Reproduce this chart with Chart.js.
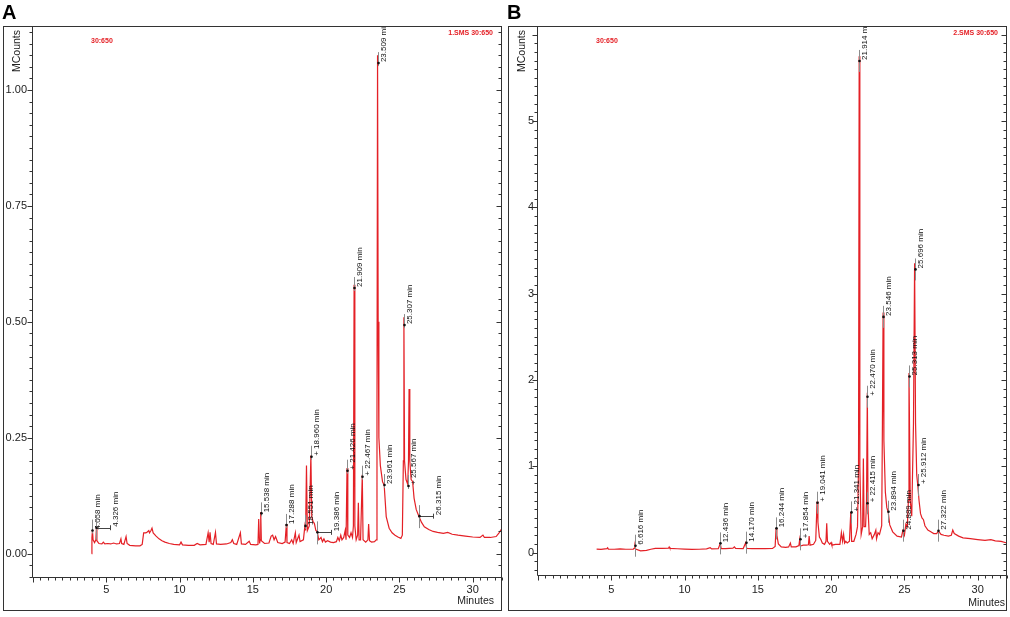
<!DOCTYPE html>
<html lang="en">
<head>
<meta charset="UTF-8">
<title>GC-MS chromatograms A / B</title>
<script src="https://cdn.jsdelivr.net/npm/chart.js"></script>
<style>
  html, body { margin: 0; padding: 0; background: #fff; }
  #wrap { position: relative; width: 1010px; height: 617px; }
  .panel { position: absolute; top: 0; width: 505px; height: 617px; }
  #panelA { left: 0; }
  #panelB { left: 505px; }
</style>
</head>
<body>
<div id="wrap">
  <div class="panel" id="panelA"><canvas id="chartA"></canvas></div>
  <div class="panel" id="panelB"><canvas id="chartB"></canvas></div>
</div>
<script>
// tick labels
var xTicks = [5, 10, 15, 20, 25, 30];
var yTicksA = [0, 0.25, 0.5, 0.75, 1.0];
var yTicksB = [0, 1, 2, 3, 4, 5];

// panel A trace, [minutes, MCounts]
var traceA = [
  [4.00,0.000],[4.02,0.035],[4.058,0.050],[4.10,0.030],[4.20,0.024],[4.29,0.030],[4.326,0.056],[4.36,0.028],
  [4.50,0.022],[4.70,0.021],[4.80,0.025],[4.90,0.021],[5.10,0.022],[5.30,0.021],[5.50,0.023],[5.70,0.021],
  [5.90,0.022],[6.00,0.032],[6.05,0.022],[6.20,0.020],[6.35,0.037],[6.42,0.022],[6.60,0.018],[7.00,0.017],
  [7.30,0.017],[7.45,0.020],[7.55,0.045],[7.70,0.045],[7.80,0.047],[7.90,0.050],[7.95,0.045],[8.05,0.050],
  [8.12,0.055],[8.20,0.045],[8.40,0.038],[8.60,0.032],[8.80,0.028],[9.00,0.025],[9.30,0.022],[9.60,0.020],
  [10.00,0.019],[10.10,0.025],[10.20,0.019],[10.60,0.018],[11.00,0.018],[11.20,0.022],[11.40,0.019],[11.80,0.020],
  [11.95,0.045],[12.02,0.025],[12.08,0.046],[12.15,0.022],[12.30,0.020],[12.45,0.046],[12.52,0.021],[12.80,0.020],
  [13.20,0.021],[13.50,0.024],[13.60,0.030],[13.70,0.022],[13.90,0.020],[14.15,0.045],[14.22,0.021],[14.50,0.020],
  [14.75,0.027],[14.85,0.020],[15.20,0.019],[15.35,0.020],[15.40,0.075],[15.46,0.022],[15.50,0.030],[15.538,0.090],
  [15.58,0.028],[15.80,0.022],[16.10,0.023],[16.25,0.038],[16.35,0.040],[16.45,0.030],[16.55,0.037],[16.70,0.024],
  [17.00,0.022],[17.20,0.025],[17.288,0.064],[17.33,0.024],[17.50,0.022],[17.65,0.030],[17.75,0.022],[17.90,0.045],
  [17.96,0.024],[18.15,0.040],[18.22,0.026],[18.45,0.030],[18.551,0.060],[18.60,0.050],[18.66,0.190],[18.72,0.050],
  [18.85,0.060],[18.96,0.212],[19.02,0.080],[19.10,0.070],[19.20,0.065],[19.30,0.050],[19.386,0.048],[19.50,0.030],
  [19.65,0.035],[19.75,0.026],[19.85,0.032],[19.95,0.025],[20.10,0.028],[20.30,0.025],[20.50,0.024],[20.70,0.026],
  [20.80,0.035],[20.90,0.028],[21.00,0.040],[21.08,0.030],[21.20,0.035],[21.30,0.050],[21.36,0.030],[21.426,0.185],
  [21.48,0.040],[21.60,0.035],[21.70,0.045],[21.80,0.035],[21.86,0.060],[21.909,0.580],[21.96,0.060],[22.05,0.030],
  [22.15,0.040],[22.20,0.110],[22.25,0.030],[22.35,0.030],[22.467,0.170],[22.52,0.030],[22.70,0.025],[22.85,0.030],
  [22.90,0.064],[22.96,0.028],[23.10,0.025],[23.30,0.026],[23.42,0.030],[23.47,0.300],[23.509,1.075],[23.55,0.500],
  [23.60,0.250],[23.70,0.190],[23.85,0.155],[23.961,0.148],[24.10,0.080],[24.30,0.055],[24.50,0.045],[24.70,0.040],
  [24.90,0.036],[25.10,0.033],[25.20,0.040],[25.27,0.200],[25.307,0.510],[25.35,0.200],[25.45,0.160],[25.567,0.150],
  [25.62,0.200],[25.66,0.355],[25.71,0.200],[25.80,0.160],[25.90,0.156],[26.00,0.120],[26.15,0.095],[26.315,0.082],
  [26.50,0.068],[26.70,0.058],[27.00,0.052],[27.30,0.048],[27.60,0.046],[28.00,0.044],[28.30,0.046],[28.60,0.042],
  [29.00,0.040],[29.50,0.038],[30.00,0.036],[30.50,0.035],[30.70,0.040],[30.80,0.035],[31.20,0.035],[31.60,0.037],
  [31.80,0.045],[32.00,0.055]
];

// panel B trace, [minutes, MCounts]
var traceB = [
  [4.00,0.040],[4.30,0.036],[4.70,0.045],[4.75,0.055],[4.80,0.040],[5.20,0.038],[5.60,0.042],[6.00,0.038],
  [6.50,0.040],[6.58,0.050],[6.616,0.075],[6.66,0.040],[7.00,0.020],[7.40,0.025],[7.70,0.038],[8.00,0.048],
  [8.50,0.048],[8.90,0.050],[8.95,0.065],[9.00,0.048],[9.50,0.044],[10.00,0.040],[10.50,0.036],[11.00,0.038],
  [11.50,0.042],[11.75,0.055],[11.85,0.042],[12.30,0.045],[12.436,0.105],[12.50,0.045],[12.80,0.046],[13.30,0.050],
  [13.40,0.065],[13.48,0.048],[14.00,0.046],[14.17,0.112],[14.24,0.047],[14.60,0.046],[15.00,0.044],[15.50,0.046],
  [16.00,0.048],[16.18,0.070],[16.244,0.285],[16.30,0.200],[16.40,0.100],[16.60,0.065],[16.90,0.060],[17.10,0.065],
  [17.22,0.110],[17.28,0.065],[17.60,0.065],[17.80,0.080],[17.854,0.150],[17.90,0.075],[18.10,0.085],[18.30,0.085],
  [18.45,0.090],[18.50,0.190],[18.56,0.085],[18.80,0.095],[18.95,0.140],[19.041,0.590],[19.10,0.350],[19.20,0.180],
  [19.30,0.150],[19.40,0.110],[19.55,0.095],[19.65,0.130],[19.70,0.340],[19.75,0.130],[19.90,0.095],[20.00,0.115],
  [20.05,0.085],[20.30,0.095],[20.60,0.095],[20.70,0.230],[20.78,0.130],[20.85,0.210],[20.92,0.110],[21.00,0.130],
  [21.10,0.110],[21.25,0.130],[21.341,0.470],[21.40,0.130],[21.55,0.130],[21.70,0.210],[21.80,0.300],[21.87,1.000],
  [21.914,5.750],[21.96,1.000],[22.05,0.210],[22.15,0.300],[22.20,1.090],[22.25,0.300],[22.35,0.300],[22.415,0.600],
  [22.470,1.850],[22.52,0.500],[22.60,0.210],[22.70,0.230],[22.80,0.160],[22.95,0.210],[23.05,0.260],[23.10,0.160],
  [23.20,0.230],[23.30,0.210],[23.45,0.310],[23.50,1.500],[23.546,2.780],[23.60,1.300],[23.70,0.700],[23.80,0.520],
  [23.894,0.470],[24.00,0.320],[24.20,0.240],[24.50,0.190],[24.80,0.180],[24.889,0.250],[25.00,0.200],[25.10,0.330],
  [25.20,0.300],[25.27,0.600],[25.313,2.080],[25.40,0.600],[25.50,0.420],[25.62,1.500],[25.696,3.350],[25.76,1.500],
  [25.84,0.900],[25.912,0.780],[26.00,0.600],[26.10,0.450],[26.20,0.400],[26.30,0.380],[26.40,0.310],[26.60,0.260],
  [26.80,0.240],[27.00,0.220],[27.20,0.220],[27.322,0.250],[27.50,0.210],[27.70,0.200],[28.00,0.190],[28.20,0.200],
  [28.30,0.260],[28.40,0.220],[28.70,0.190],[29.00,0.170],[29.50,0.160],[30.00,0.150],[30.50,0.140],[30.90,0.150],
  [31.20,0.135],[31.60,0.130],[32.00,0.110]
];

// labelled peaks: retention time and the height where the marker sits
var peaksA = [4.058, 4.326, 15.538, 17.288, 18.551, 18.960, 19.386, 21.426, 21.909, 22.467, 23.509, 23.961, 25.307, 25.567, 26.315];
var markA  = [0.050, 0.056, 0.087, 0.062, 0.060, 0.209, 0.046, 0.179, 0.573, 0.166, 1.058, 0.148, 0.493, 0.146, 0.081];
var plusA  = [18.960, 21.426, 22.467, 25.567];
var leaderA = [4.326, 19.386, 26.315];

var peaksB = [6.616, 12.436, 14.170, 16.244, 17.854, 19.041, 21.341, 21.914, 22.415, 22.470, 23.546, 23.894, 24.889, 25.313, 25.696, 25.912, 27.322];
var markB  = [0.079, 0.106, 0.114, 0.280, 0.153, 0.577, 0.465, 5.695, 0.570, 1.805, 2.730, 0.473, 0.253, 2.040, 3.280, 0.782, 0.253];
var plusB  = [17.854, 19.041, 21.341, 22.415, 22.470, 25.912];
var leaderB = [];

var FONT = "'Liberation Sans', Arial, Helvetica, sans-serif";
var RED = 'rgb(228,32,38)';

function decor(p) {
  return {
    id: 'decor' + p.letter,
    afterDatasetsDraw: function (chart) {
      var c = chart.ctx, a = chart.chartArea, xs = chart.scales.x, ys = chart.scales.y;
      c.save();
      c.beginPath();
      c.rect(a.left, a.top, a.right - a.left, a.bottom - a.top);
      c.clip();
      p.peaks.forEach(function (t, i) {
        var px = Math.round(xs.getPixelForValue(t)) + 0.5;
        var py = ys.getPixelForValue(p.marks[i]);
        var lead = p.leaders.indexOf(t) >= 0;
        var below = lead ? 12 : p.below;
        c.strokeStyle = '#8c8c8c';
        c.lineWidth = 1;
        c.beginPath();
        c.moveTo(px, py - 11);
        c.lineTo(px, py + below);
        c.stroke();
        var tx = px;
        if (lead) {
          c.strokeStyle = '#444';
          c.beginPath();
          c.moveTo(px, Math.round(py) + 0.5);
          c.lineTo(px + 14, Math.round(py) + 0.5);
          c.moveTo(px + 14, py - 2.5);
          c.lineTo(px + 14, py + 2.5);
          c.stroke();
          tx = px + 14;
        }
        c.fillStyle = '#111';
        c.beginPath();
        c.arc(px, py, 1.3, 0, Math.PI * 2);
        c.fill();
        var txt = (p.plus.indexOf(t) >= 0 ? '+ ' : '') + t.toFixed(3) + ' min';
        c.save();
        c.translate(tx + 5, py - 1);
        c.rotate(-Math.PI / 2);
        c.font = '8px ' + FONT;
        c.textAlign = 'left';
        c.textBaseline = 'middle';
        c.fillStyle = '#111';
        c.fillText(txt, 0, 0);
        c.restore();
      });
      c.restore();
    },
    afterDraw: function (chart) {
      var c = chart.ctx, a = chart.chartArea, xs = chart.scales.x, ys = chart.scales.y;
      var L = Math.round(a.left) - 0.5, R = Math.round(a.right) - 0.5;
      var T = Math.round(a.top) + 0.5, B = Math.round(a.bottom) - 0.5;
      c.save();
      c.strokeStyle = '#333';
      c.lineWidth = 1;
      // outer frame
      c.strokeRect(3.5, T, R - 3.5, 610.5 - T);
      // axis box
      c.beginPath();
      c.moveTo(L, T); c.lineTo(L, B); c.lineTo(R, B); c.lineTo(R, T);
      c.stroke();
      // x ticks
      c.beginPath();
      for (var k = 0; k <= 64; k++) {
        var v = k * 0.5;
        var x = Math.round(xs.getPixelForValue(v)) + 0.5;
        var len = (k % 10 === 0) ? 5 : 3;
        c.moveTo(x, B); c.lineTo(x, B + len);
      }
      // y ticks, left outward and right inward
      for (var j = -20; j <= 400; j++) {
        var yv = j * p.minor;
        if (yv < ys.min || yv > ys.max) continue;
        var y = Math.round(ys.getPixelForValue(yv)) + 0.5;
        var major = Math.abs(j % p.perMajor) === 0;
        var l2 = major ? 5 : 3;
        c.moveTo(L, y); c.lineTo(L - l2, y);
        c.moveTo(R, y); c.lineTo(R - l2, y);
      }
      c.stroke();

      // panel letter
      c.fillStyle = '#000';
      c.font = 'bold 20px ' + FONT;
      c.textAlign = 'left';
      c.textBaseline = 'alphabetic';
      c.fillText(p.letter, 2, 18.5);

      // axis titles
      c.fillStyle = '#222';
      c.font = '10.5px ' + FONT;
      c.save();
      c.translate(17.5, 30);
      c.rotate(-Math.PI / 2);
      c.textAlign = 'right';
      c.textBaseline = 'middle';
      c.fillText('MCounts', 0, 0);
      c.restore();
      c.textAlign = 'right';
      c.textBaseline = 'middle';
      c.fillText('Minutes', p.minutesX, p.minutesY);

      // trace ids
      c.fillStyle = RED;
      c.font = 'bold 7px ' + FONT;
      c.textAlign = 'left';
      c.fillText('30:650', 91, 41.5);
      c.textAlign = 'right';
      c.fillText(p.traceName, 493, 33.5);
      c.restore();
    }
  };
}

function makePanel(id, p) {
  return new Chart(document.getElementById(id), {
    type: 'scatter',
    data: {
      datasets: [{
        data: p.trace.map(function (d) { return { x: d[0], y: d[1] }; }),
        showLine: true,
        borderColor: RED,
        borderWidth: 1.2,
        pointRadius: 0,
        tension: 0
      }]
    },
    options: {
      responsive: true,
      maintainAspectRatio: false,
      animation: false,
      layout: { padding: { top: 26, left: 0, right: 3, bottom: 6 } },
      plugins: { legend: { display: false }, tooltip: { enabled: false } },
      scales: {
        x: {
          type: 'linear', min: 0, max: 32,
          afterBuildTicks: function (s) { s.ticks = xTicks.map(function (v) { return { value: v }; }); },
          afterFit: function (s) { s.height = p.xAxisH; },
          grid: { display: false, drawTicks: false },
          border: { display: false },
          ticks: { padding: p.xPad, color: '#222', font: { family: FONT, size: 11 }, maxRotation: 0, autoSkip: false }
        },
        y: {
          type: 'linear', min: p.yMin, max: p.yMax,
          afterBuildTicks: function (s) { s.ticks = p.yTicks.map(function (v) { return { value: v }; }); },
          afterFit: function (s) { s.width = 33; },
          grid: { display: false, drawTicks: false },
          border: { display: false },
          ticks: { padding: p.yPad, color: '#222', font: { family: FONT, size: 11 }, autoSkip: false,
                   callback: function (v) { return p.fmt(v); } }
        }
      }
    },
    plugins: [decor(p)]
  });
}

makePanel('chartA', {
  letter: 'A', traceName: '1.SMS 30:650', trace: traceA,
  peaks: peaksA, marks: markA, plus: plusA, leaders: leaderA, below: 3,
  yMin: -0.0524, yMax: 1.138, yTicks: yTicksA, minor: 0.025, perMajor: 10,
  fmt: function (v) { return v.toFixed(2); },
  xAxisH: 33, xPad: 5, yPad: 6, minutesX: 494, minutesY: 601
});

makePanel('chartB', {
  letter: 'B', traceName: '2.SMS 30:650', trace: traceB,
  peaks: peaksB, marks: markB, plus: plusB, leaders: leaderB, below: 11,
  yMin: -0.272, yMax: 6.10, yTicks: yTicksB, minor: 0.1, perMajor: 10,
  fmt: function (v) { return String(v); },
  xAxisH: 35, xPad: 7, yPad: 4, minutesX: 500, minutesY: 603.5
});
</script>
</body>
</html>
